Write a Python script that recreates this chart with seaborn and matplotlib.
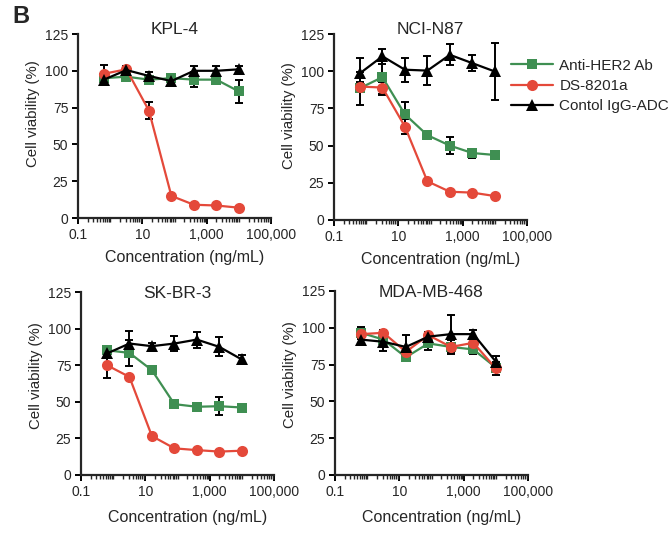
import numpy as np
import pandas as pd
import matplotlib
matplotlib.use("Agg")
import matplotlib.pyplot as plt
import seaborn as sns
from matplotlib.ticker import FixedLocator, LogLocator, NullFormatter, FixedFormatter

# ---------------- data ----------------
conc = [0.64, 3.2, 16, 80, 400, 2000, 10000]
series_names = ["Anti-HER2 Ab", "DS-8201a", "Contol IgG-ADC"]
cell_lines = ["KPL-4", "NCI-N87", "SK-BR-3", "MDA-MB-468"]
xtick_vals = [0.1, 10, 1000, 100000]
xtick_labels = ["0.1", "10", "1,000", "100,000"]
ytick_vals = [0, 25, 50, 75, 100, 125]

kpl4_ab = [95, 96, 94, 95, 94, 94, 86]
kpl4_ab_err = [3, 2, 2, 2, 5, 3, 8]
kpl4_ds = [98, 101, 73, 15, 9, 8.5, 7]
kpl4_ds_err = [6, 2, 5.5, 1, 1, 1, 1]
kpl4_ctrl = [94, 100.5, 96.5, 93, 100, 100, 101]
kpl4_ctrl_err = [3, 2, 3, 1, 3, 3, 2]

n87_ab = [88.6, 96, 71, 57, 50, 45, 43.7]
n87_ab_err = [11, 12, 8, 2, 5.5, 3, 2]
n87_ds = [89.7, 89, 62.8, 26, 19, 18.4, 16.1]
n87_ds_err = [3, 4, 5, 1, 1, 1, 1]
n87_ctrl = [98.6, 110, 101, 100.4, 111, 105.4, 99.8]
n87_ctrl_err = [10, 5, 8, 10, 7, 5.5, 19]

skbr3_ab = [85.2, 83.4, 71.6, 48.4, 46.6, 47, 46.1]
skbr3_ab_err = [2, 9, 2, 2, 2, 6, 2]
skbr3_ds = [75, 67, 26.6, 18.2, 17, 16, 16.6]
skbr3_ds_err = [8.6, 1, 1, 1, 1, 1, 1]
skbr3_ctrl = [83, 89.8, 88, 89.8, 92.5, 87.5, 78.9]
skbr3_ctrl_err = [3, 8.5, 2, 5, 5.5, 6.5, 3]

mda_ab = [96.6, 92, 80, 89.4, 87, 85.3, 73]
mda_ab_err = [4, 2, 2, 4.6, 3, 3, 3]
mda_ds = [95.7, 96.6, 83.7, 95, 87, 89.8, 72.4]
mda_ds_err = [2, 2, 2, 2, 5, 3, 4.4]
mda_ctrl = [92, 90.5, 87, 94, 95.7, 95.7, 77]
mda_ctrl_err = [2, 6, 8, 2, 13, 3, 4]

panel_data = {
    "KPL-4": [(kpl4_ab, kpl4_ab_err), (kpl4_ds, kpl4_ds_err), (kpl4_ctrl, kpl4_ctrl_err)],
    "NCI-N87": [(n87_ab, n87_ab_err), (n87_ds, n87_ds_err), (n87_ctrl, n87_ctrl_err)],
    "SK-BR-3": [(skbr3_ab, skbr3_ab_err), (skbr3_ds, skbr3_ds_err), (skbr3_ctrl, skbr3_ctrl_err)],
    "MDA-MB-468": [(mda_ab, mda_ab_err), (mda_ds, mda_ds_err), (mda_ctrl, mda_ctrl_err)],
}

# ---------------- style ----------------
sns.set_style("ticks")
plt.rcParams["font.family"] = ["Liberation Sans", "DejaVu Sans"]

colors = ["#3f8f52", "#e4493a", "#000000"]
markers = ["s", "o", "^"]
msizes = [7.5, 8, 8.5]

W, H = 669, 560
fig = plt.figure(figsize=(W / 100, H / 100), dpi=100)

# axes rectangles in pixels: left, right, top, bottom
rects = {
    "KPL-4": (78, 271, 34, 218),
    "NCI-N87": (334, 527, 34, 220),
    "SK-BR-3": (81, 274, 292, 475),
    "MDA-MB-468": (335, 528, 291, 475),
}
title_y = {"KPL-4": 1.0, "NCI-N87": 1.0, "SK-BR-3": 0.966, "MDA-MB-468": 0.966}
ylabel_y = {"KPL-4": 0.565, "NCI-N87": 0.56, "SK-BR-3": 0.546, "MDA-MB-468": 0.546}
xlabel_y = {"KPL-4": -0.212, "NCI-N87": -0.21, "SK-BR-3": -0.23, "MDA-MB-468": -0.23}

for cell in cell_lines:
    l, r, t, b = rects[cell]
    ax = fig.add_axes([l / W, 1 - b / H, (r - l) / W, (b - t) / H])
    for i, (name, (vals, errs)) in enumerate(zip(series_names, panel_data[cell])):
        ax.errorbar(conc, vals, yerr=errs, fmt="none", ecolor="black",
                    elinewidth=1.4, capsize=3.2, capthick=1.4, zorder=1.5)
        df = pd.DataFrame({"conc": conc, "viab": vals})
        sns.lineplot(data=df, x="conc", y="viab", ax=ax, color=colors[i],
                     marker=markers[i], markersize=msizes[i],
                     markeredgewidth=0, linewidth=1.6, label=name,
                     legend=False)
        ax.lines[-1].set_zorder(3 + i)
    ax.set_xscale("log")
    ax.set_xlim(0.1, 100000)
    ax.set_ylim(0, 125)
    ax.xaxis.set_major_locator(FixedLocator(xtick_vals))
    ax.xaxis.set_major_formatter(FixedFormatter(xtick_labels))
    ax.xaxis.set_minor_locator(LogLocator(base=10, subs=np.arange(1, 10), numticks=50))
    ax.xaxis.set_minor_formatter(NullFormatter())
    ax.set_yticks(ytick_vals)
    ax.set_yticklabels([str(v) for v in ytick_vals])
    for s in ["top", "right"]:
        ax.spines[s].set_visible(False)
    for s in ["left", "bottom"]:
        ax.spines[s].set_linewidth(1.6)
    ax.tick_params(axis="both", which="major", length=4, width=1.4, labelsize=10,
                   pad=3, direction="out", color="black")
    ax.tick_params(axis="x", which="minor", length=3, width=1.0, direction="out")
    ax.set_xlabel("Concentration (ng/mL)", fontsize=11.5)
    ax.xaxis.label.set_verticalalignment("center")
    ax.xaxis.set_label_coords(0.555, xlabel_y[cell])
    ax.set_ylabel("Cell viability (%)", fontsize=10.8)
    ax.yaxis.set_label_coords(-45 / (r - l), ylabel_y[cell])
    ax.yaxis.label.set_verticalalignment("center")
    ax.text(0.5, title_y[cell], cell, transform=ax.transAxes, ha="center",
            va="baseline", fontsize=12.5)
    ax.set_facecolor("white")
    if cell == "NCI-N87":
        handles, labels = ax.get_legend_handles_labels()
        ax.legend(handles[:3], labels[:3], loc="center left",
                  bbox_to_anchor=(0.915, 0.72), frameon=False, fontsize=11,
                  handlelength=2.8, handletextpad=0.4, labelspacing=0.42,
                  borderaxespad=0, borderpad=0)

fig.text(12 / W, 1 - 23 / H, "B", fontsize=17, fontweight="bold", ha="left", va="baseline")

fig.savefig("out.png", dpi=100, facecolor="white")
